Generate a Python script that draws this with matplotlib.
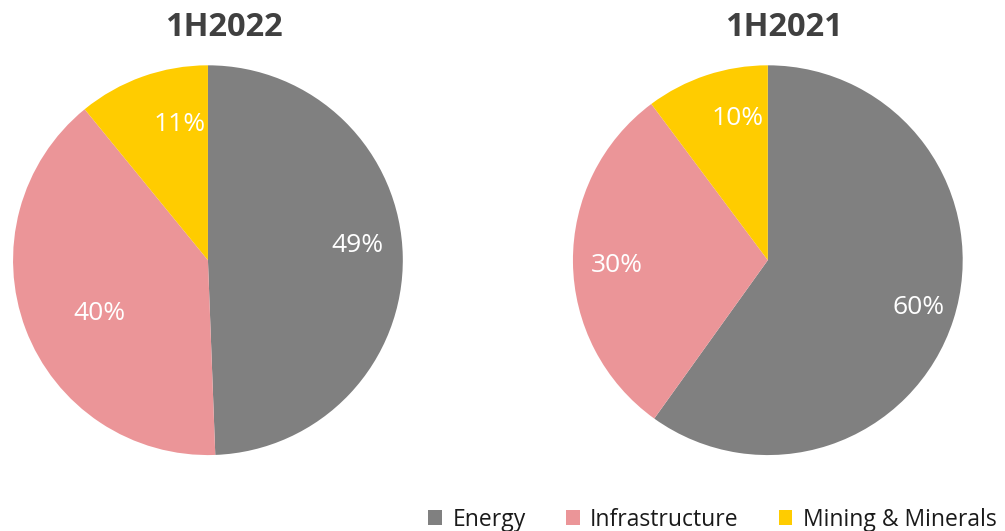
import matplotlib
matplotlib.use("Agg")
import matplotlib.pyplot as plt
import numpy as np
from matplotlib.patches import Patch

plt.rcParams['font.family'] = ['Open Sans', 'DejaVu Sans']

categories = ["Energy", "Infrastructure", "Mining & Minerals"]
values_2022 = [49.4, 39.7, 10.9]
values_2021 = [59.9, 29.9, 10.2]
titles = ["1H2022", "1H2021"]
colors = ["#808080", "#EB9598", "#FFCC00"]
# placement of the percentage labels: radial fraction and angular nudge (deg)
label_dist_2022 = [0.77, 0.62, 0.71]
label_rot_2022 = [4.6, 5.3, -7.9]
label_dist_2021 = [0.81, 0.775, 0.745]
label_rot_2021 = [0.4, 1.4, -6.5]

fig = plt.figure(figsize=(10.05, 5.31), dpi=100)
ax1 = fig.add_axes([0.0129, 0.143, 0.388, 0.734])
ax2 = fig.add_axes([0.570, 0.143, 0.388, 0.734])

for ax, vals, title, dists, rots in [(ax1, values_2022, titles[0], label_dist_2022, label_rot_2022),
                                     (ax2, values_2021, titles[1], label_dist_2021, label_rot_2021)]:
    wedges, texts, autotexts = ax.pie(vals, colors=colors, startangle=90, counterclock=False,
                                      autopct=lambda p: f"{p:.0f}%", pctdistance=1.0,
                                      wedgeprops=dict(linewidth=0),
                                      textprops=dict(color="white", fontsize=19))
    for t, d, r in zip(autotexts, dists, rots):
        x, y = t.get_position()
        ang = np.arctan2(y, x) + np.deg2rad(r)
        t.set_position((d * np.cos(ang), d * np.sin(ang)))
    ax.set_xlim(-1, 1)
    ax.set_ylim(-1, 1)
    ax.set_aspect("equal")
    pos = ax.get_position()
    fig.text((pos.x0 + pos.x1) / 2 + 16 / 1005, 1 - 28 / 531, title, ha="center", va="center",
             fontsize=23.5, fontweight="bold", color="#404040")

handles = [Patch(facecolor=c, edgecolor="none") for c in colors]
fig.legend(handles, categories, loc="lower right", bbox_to_anchor=(1.012, -0.04), ncol=3,
           frameon=False, fontsize=16.5, handlelength=0.6, handleheight=0.6,
           columnspacing=1.75, handletextpad=0.45, labelcolor="#1a1a1a")

fig.savefig("out.png", dpi=100)
